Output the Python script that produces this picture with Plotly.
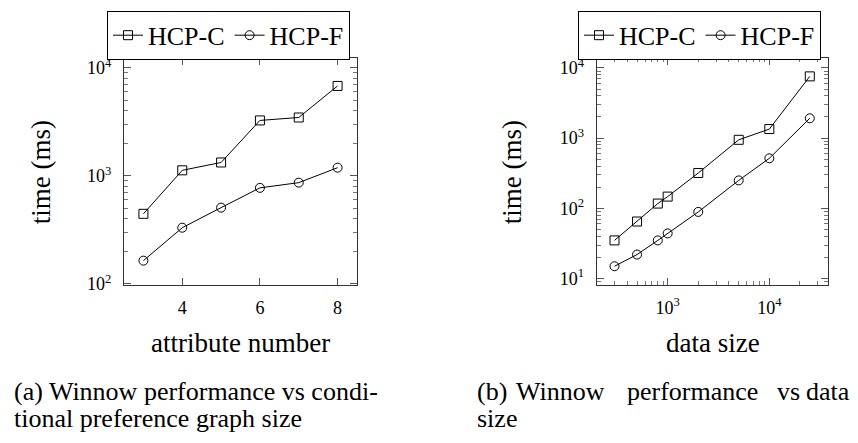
import plotly.graph_objects as go

# ---------------- data ----------------
attr_x = [3, 4, 5, 6, 7, 8]
attr_hcp_c = [445, 1125, 1330, 3260, 3470, 6800]
attr_hcp_f = [164, 331, 508, 774, 865, 1190]

size_x = [300, 500, 800, 1000, 2000, 5000, 10000, 25000]
size_hcp_c = [35, 65, 117, 147, 319, 946, 1345, 7570]
size_hcp_f = [15, 22, 35, 44, 89, 250, 516, 1915]

left_xtick_vals = [4, 6, 8]
left_xtick_text = ["4", "6", "8"]
left_ytick_vals = [100, 1000, 10000]
left_ytick_text = ["10<sup>2</sup>", "10<sup>3</sup>", "10<sup>4</sup>"]
right_xtick_vals = [1000, 10000]
right_xtick_text = ["10<sup>3</sup>", "10<sup>4</sup>"]
right_ytick_vals = [10, 100, 1000, 10000]
right_ytick_text = ["10<sup>1</sup>", "10<sup>2</sup>", "10<sup>3</sup>", "10<sup>4</sup>"]

series_names = ["HCP-C", "HCP-F"]
left_xlabel = "attribute number"
right_xlabel = "data size"
ylabel = "time (ms)"
caption_a = ["(a) Winnow performance vs condi-", "tional preference graph size"]
caption_b_words = ["(b)", "Winnow", "performance", "vs", "data"]
caption_b_line2 = "size"

# ---------------- layout helpers ----------------
W, H = 858, 443
FONT = "Liberation Serif"


def px(x):
    return x / W


def py(y):
    return 1 - y / H


def minor_log(lo, hi):
    vals = []
    dec = 1
    while dec <= hi:
        for m in range(2, 10):
            v = m * dec
            if lo <= v <= hi:
                vals.append(v)
        dec *= 10
    return vals


fig = go.Figure()

line = dict(color="black", width=1)
for name, ys, sym in [(series_names[0], attr_hcp_c, "square-open"),
                      (series_names[1], attr_hcp_f, "circle-open")]:
    fig.add_trace(go.Scatter(x=attr_x, y=ys, name=name, mode="lines+markers",
                             line=line,
                             marker=dict(symbol=sym, size=9, color="black",
                                         line=dict(color="black", width=1)),
                             xaxis="x", yaxis="y", legend="legend"))
for name, ys, sym in [(series_names[0], size_hcp_c, "square-open"),
                      (series_names[1], size_hcp_f, "circle-open")]:
    fig.add_trace(go.Scatter(x=size_x, y=ys, name=name, mode="lines+markers",
                             line=line,
                             marker=dict(symbol=sym, size=9, color="black",
                                         line=dict(color="black", width=1)),
                             xaxis="x2", yaxis="y2", legend="legend2"))

axis_common = dict(showline=True, linecolor="#333", linewidth=1, mirror="allticks",
                   ticks="inside", ticklen=7, tickwidth=1, tickcolor="#555",
                   showgrid=False, zeroline=False, tickmode="array",
                   tickfont=dict(family=FONT, size=18, color="black"))
minor_common = dict(ticks="inside", ticklen=4, tickwidth=1, tickcolor="#777",
                    showgrid=False, tickmode="array")

ydom = [py(290), py(57)]

fig.update_layout(
    width=W, height=H, margin=dict(l=0, r=0, t=0, b=0),
    paper_bgcolor="white", plot_bgcolor="white",
    font=dict(family=FONT, color="black"),
    xaxis=dict(axis_common, domain=[px(124), px(357)], range=[2.5, 8.5],
               tickvals=left_xtick_vals, ticktext=left_xtick_text,
               anchor="y", ticklabelstandoff=6),
    yaxis=dict(axis_common, domain=ydom, type="log", range=[1.988, 4.087],
               tickvals=left_ytick_vals, ticktext=left_ytick_text,
               anchor="x", ticklabelstandoff=8,
               minor=dict(minor_common, tickvals=minor_log(100, 12000))),
    xaxis2=dict(axis_common, domain=[px(596.7), px(828.3)], type="log",
                range=[2.302, 4.58],
                tickvals=right_xtick_vals, ticktext=right_xtick_text,
                anchor="y2", ticklabelstandoff=6,
                minor=dict(minor_common, tickvals=minor_log(200, 38000))),
    yaxis2=dict(axis_common, domain=ydom, type="log", range=[0.907, 4.134],
                tickvals=right_ytick_vals, ticktext=right_ytick_text,
                anchor="x2", ticklabelstandoff=8,
                minor=dict(minor_common, tickvals=minor_log(8, 13600))),
    legend=dict(x=px(107), y=py(8), xanchor="left", yanchor="top",
                orientation="h", bordercolor="black", borderwidth=1,
                bgcolor="white", font=dict(family=FONT, size=26),
                itemwidth=30, tracegroupgap=0),
    legend2=dict(x=px(578), y=py(8), xanchor="left", yanchor="top",
                 orientation="h", bordercolor="black", borderwidth=1,
                 bgcolor="white", font=dict(family=FONT, size=26),
                 itemwidth=30, tracegroupgap=0),
)

ann = []
tf = dict(family=FONT, size=27, color="black")
ann.append(dict(text=ylabel, x=px(41), y=py(174), textangle=-90, font=tf))
ann.append(dict(text=ylabel, x=px(512), y=py(174), textangle=-90, font=tf))
ann.append(dict(text=left_xlabel, x=px(240.5), y=py(349), font=tf))
ann.append(dict(text=right_xlabel, x=px(712.5), y=py(349), font=tf))

cf = dict(family=FONT, size=26, color="black")
ann.append(dict(text=caption_a[0], x=px(12), y=py(399), xanchor="left", font=cf))
ann.append(dict(text=caption_a[1], x=px(12), y=py(427), xanchor="left", font=cf))
b_pos = [475, 514, 625, 775]
for w, xp in zip(caption_b_words[:-1], b_pos):
    ann.append(dict(text=w, x=px(xp), y=py(399), xanchor="left", font=cf))
ann.append(dict(text=caption_b_words[-1], x=px(852), y=py(399), xanchor="right", font=cf))
ann.append(dict(text=caption_b_line2, x=px(475), y=py(427), xanchor="left", font=cf))

for a in ann:
    a.update(xref="paper", yref="paper", showarrow=False)
    a.setdefault("xanchor", "center")
    a.setdefault("yanchor", "middle")
fig.update_layout(annotations=ann)

fig.write_html("out.html")
